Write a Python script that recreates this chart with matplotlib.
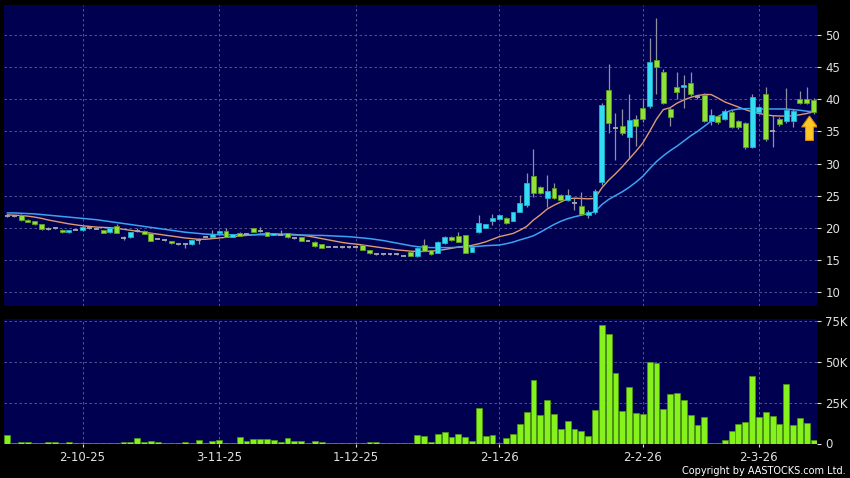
import numpy as np
import matplotlib.pyplot as plt
from matplotlib.patches import Rectangle, FancyArrow

# daily candles (119 sessions, mid-Sep 2025 to mid-Mar 2026)
opens = [21.8, 21.8, 22.0, 21.2, 21.05, 20.5, 19.85, 19.9, 19.7, 19.3,
         19.7, 19.6, 19.9, 19.87, 19.6, 19.27, 20.25, 18.4, 18.5, 19.5,
         19.5, 19.1, 18.3, 18.1, 17.9, 17.4, 17.4, 17.4, 18.05, 18.6,
         18.5, 19.1, 19.45, 18.6, 19.25, 19.0, 19.9, 19.45, 19.35, 18.9,
         18.85, 19.1, 18.35, 18.5, 17.95, 17.8, 17.4, 17.05, 17.05, 17.0,
         17.0, 17.0, 17.3, 16.5, 15.9, 15.85, 15.9, 15.9, 15.65, 16.15,
         15.6, 17.3, 16.5, 16.1, 17.55, 18.6, 18.7, 18.85, 16.25, 19.36,
         19.98, 20.98, 21.4, 21.5, 21.07, 22.5, 23.5, 28.04, 26.4, 24.56,
         26.2, 25.1, 24.3, 23.8, 23.4, 21.96, 22.4, 27.15, 41.4, 35.5,
         35.8, 34.2, 37.0, 38.6, 39.0, 46.1, 44.2, 38.5, 41.85, 41.85,
         42.6, 40.3, 40.7, 36.7, 37.4, 37.0, 38.1, 36.6, 36.25, 32.6,
         37.96, 40.76, 35.1, 36.9, 36.6, 36.6, 40.1, 40.1, 39.9]
highs = [22.0, 21.9, 22.1, 21.3, 21.1, 20.55, 20.05, 20.1, 19.8, 19.7,
         19.8, 20.2, 20.0, 19.95, 19.7, 20.05, 20.6, 18.7, 19.4, 19.9,
         19.6, 19.15, 18.4, 18.2, 17.95, 17.5, 17.45, 18.1, 18.4, 18.75,
         19.6, 19.55, 19.9, 19.0, 19.3, 19.1, 20.0, 20.15, 19.4, 19.15,
         19.6, 19.2, 18.45, 18.55, 18.05, 17.85, 17.45, 17.15, 17.15, 17.1,
         17.1, 17.1, 17.35, 16.55, 16.0, 15.95, 16.0, 16.0, 15.75, 16.25,
         17.0, 18.2, 16.6, 17.9, 18.7, 18.75, 19.36, 18.9, 17.1, 21.96,
         20.65, 22.1, 22.05, 21.6, 22.5, 25.1, 28.46, 32.2, 26.5, 28.2,
         26.9, 25.2, 26.1, 24.56, 25.6, 22.7, 26.0, 39.5, 45.5, 37.8,
         38.5, 40.9, 37.5, 40.2, 49.5, 52.6, 44.8, 38.8, 44.3, 43.8,
         44.2, 40.6, 41.0, 38.5, 37.6, 38.5, 38.3, 36.8, 36.4, 40.85,
         39.0, 41.95, 37.5, 37.2, 41.7, 38.5, 41.3, 42.0, 40.2]
lows = [21.7, 21.7, 21.1, 20.9, 20.4, 19.65, 19.7, 19.75, 19.2, 19.25,
        19.6, 19.55, 19.8, 19.8, 19.15, 19.2, 19.15, 18.1, 18.45, 19.3,
        18.95, 17.95, 18.2, 18.0, 17.5, 17.3, 16.9, 17.35, 17.4, 18.5,
        18.45, 19.05, 18.55, 18.55, 18.7, 18.9, 19.3, 19.4, 18.7, 18.85,
        18.8, 18.45, 18.25, 17.9, 17.85, 17.05, 16.85, 16.95, 16.95, 16.9,
        16.9, 16.9, 16.45, 15.95, 15.8, 15.75, 15.8, 15.8, 15.55, 15.55,
        15.5, 16.3, 15.8, 16.0, 17.5, 18.0, 17.75, 16.05, 16.2, 19.2,
        19.9, 20.45, 21.35, 20.6, 21.0, 22.4, 23.26, 24.8, 25.2, 23.26,
        24.4, 24.2, 24.1, 22.7, 22.0, 21.45, 22.2, 26.6, 34.7, 30.5,
        34.5, 30.8, 32.7, 36.4, 38.7, 40.9, 39.3, 35.8, 40.1, 38.6,
        40.5, 40.0, 36.5, 36.0, 36.2, 36.8, 35.5, 35.4, 32.3, 32.4,
        37.8, 33.5, 32.5, 35.8, 36.3, 35.7, 39.3, 39.3, 37.7]
closes = [21.8, 21.8, 21.2, 20.95, 20.5, 19.75, 19.85, 19.9, 19.3, 19.6,
          19.7, 20.1, 19.9, 19.87, 19.2, 19.98, 19.2, 18.4, 19.3, 19.5,
          19.0, 18.0, 18.3, 18.1, 17.55, 17.4, 17.4, 18.05, 18.05, 18.6,
          18.95, 19.45, 18.6, 18.95, 18.75, 19.0, 19.35, 19.45, 18.75, 19.1,
          18.85, 18.5, 18.35, 17.95, 17.95, 17.1, 16.9, 17.05, 17.05, 17.0,
          17.0, 17.0, 16.5, 16.0, 15.9, 15.85, 15.9, 15.9, 15.65, 15.6,
          16.9, 16.4, 15.9, 17.8, 18.6, 18.07, 17.8, 16.1, 17.03, 20.67,
          20.56, 21.5, 21.96, 20.67, 22.43, 23.9, 26.9, 25.34, 25.34, 25.7,
          24.56, 24.3, 25.1, 23.8, 22.2, 22.5, 25.7, 39.1, 36.3, 35.5,
          34.7, 36.8, 35.9, 36.9, 45.75, 45.1, 39.5, 37.2, 41.2, 42.2,
          40.9, 40.3, 36.7, 37.5, 36.4, 38.2, 35.7, 35.7, 32.5, 40.3,
          38.8, 33.75, 35.1, 36.1, 38.4, 38.2, 39.5, 39.5, 37.96]

# moving averages as drawn on the chart (short = orange, long = blue)
ma_short = [22.0, 21.95, 21.9, 21.8, 21.65, 21.45, 21.2, 21.0, 20.8, 20.6,
            20.45, 20.3, 20.2, 20.1, 20.05, 20.0, 19.9, 19.75, 19.6, 19.45,
            19.3, 19.15, 19.0, 18.85, 18.7, 18.55, 18.4, 18.3, 18.2, 18.2,
            18.3, 18.4, 18.5, 18.6, 18.7, 18.8, 18.9, 19.0, 19.05, 19.05,
            19.0, 19.0, 18.95, 18.85, 18.7, 18.5, 18.3, 18.1, 17.9, 17.7,
            17.55, 17.45, 17.3, 17.15, 17.0, 16.85, 16.7, 16.55, 16.45, 16.35,
            16.3, 16.3, 16.35, 16.45, 16.6, 16.8, 17.0, 17.1, 17.25, 17.5,
            17.8, 18.2, 18.6, 18.85, 19.1, 19.6, 20.2, 21.2, 22.0, 22.9,
            23.5, 24.0, 24.5, 24.6, 24.55, 24.5, 24.55, 26.2, 27.4, 28.4,
            29.5, 30.7, 31.9, 33.2, 35.0, 36.9, 38.4, 38.7, 39.4, 39.9,
            40.3, 40.6, 40.75, 40.75, 40.2, 39.6, 39.2, 38.8, 38.4, 38.05,
            37.8, 37.6, 37.45, 37.4, 37.4, 37.45, 37.6, 37.8, 38.05]
ma_long = [22.3, 22.3, 22.25, 22.2, 22.15, 22.05, 21.95, 21.85, 21.75, 21.65,
           21.55, 21.45, 21.35, 21.25, 21.1, 20.95, 20.8, 20.65, 20.5, 20.35,
           20.2, 20.05, 19.9, 19.75, 19.6, 19.45, 19.3, 19.2, 19.1, 19.0,
           18.95, 18.9, 18.9, 18.9, 18.9, 18.9, 18.9, 18.9, 18.9, 18.9,
           18.9, 18.9, 18.85, 18.85, 18.85, 18.8, 18.8, 18.75, 18.7, 18.65,
           18.6, 18.5, 18.4, 18.3, 18.15, 18.0, 17.8, 17.6, 17.4, 17.2,
           17.05, 16.95, 16.9, 16.9, 16.9, 16.9, 16.95, 17.0, 17.05, 17.1,
           17.2, 17.25, 17.3, 17.5, 17.75, 18.1, 18.4, 18.75, 19.3, 19.9,
           20.5, 21.0, 21.4, 21.7, 21.95, 22.2, 22.5, 23.6, 24.4, 25.0,
           25.6, 26.3, 27.1, 28.0, 29.2, 30.3, 31.2, 32.0, 32.7, 33.5,
           34.3, 35.0, 35.8, 36.6, 37.3, 37.9, 38.3, 38.5, 38.55, 38.55,
           38.5, 38.5, 38.5, 38.5, 38.5, 38.4, 38.3, 38.15, 38.05]

# volume in thousands of shares
volume_k = [5.1, 0.6, 1.0, 1.2, 0.4, 0.6, 1.2, 1.2, 0.6, 1.2,
            0.6, 0.2, 0.1, 0.1, 0.1, 0.1, 0.6, 0.8, 1.0, 3.3,
            1.2, 1.8, 0.8, 0.2, 0.6, 0.6, 1.2, 0.2, 2.0, 0.6,
            1.8, 2.2, 0.6, 0.6, 3.7, 1.4, 2.6, 2.6, 2.6, 2.0,
            1.2, 3.5, 1.4, 1.4, 0.6, 1.8, 1.2, 0.6, 0.6, 0.6,
            0.6, 0.2, 0.2, 0.8, 0.8, 0.6, 0.2, 0.6, 0.6, 0.2,
            4.9, 4.5, 0.8, 5.7, 7.3, 3.9, 5.7, 3.9, 1.8, 21.8,
            4.5, 4.9, 0.4, 3.1, 5.7, 12.2, 19.0, 38.5, 17.5, 26.3,
            18.1, 9.0, 13.9, 8.8, 7.9, 4.3, 20.4, 72.1, 66.8, 43.2,
            19.8, 34.4, 18.5, 17.9, 49.7, 48.9, 21.0, 30.0, 30.8, 26.3,
            17.7, 11.2, 16.1, 0.4, 0.4, 2.4, 7.5, 12.0, 13.2, 41.4,
            16.3, 19.0, 16.7, 11.8, 36.5, 11.4, 15.7, 12.4, 2.0]

tick_idx = [11, 31, 51, 72, 93, 110]
tick_labels = ['2-10-25', '3-11-25', '1-12-25', '2-1-26', '2-2-26', '2-3-26']
price_ticks = [10, 15, 20, 25, 30, 35, 40, 45, 50]
vol_ticks = [0, 25, 50, 75]
vol_labels = ['0', '25K', '50K', '75K']

NAVY = '#000050'
CYAN, CYAN_EDGE = '#33dcf0', '#1fb0d0'
GREEN, GREEN_EDGE = '#8ee23a', '#5f9e1e'
DOJI = '#a8a8b0'
WICK = '#9090a0'
VOL, VOL_EDGE = '#86f21c', '#4f9a10'
GRID = '#60609a'
TXT = '#e0e0e0'

fig = plt.figure(figsize=(8.5, 4.78), dpi=100, facecolor='black')
ax = fig.add_axes([4 / 850, 1 - 306 / 478, 813 / 850, 301 / 478])
axv = fig.add_axes([4 / 850, 1 - 443.5 / 478, 813 / 850, 125 / 478])

n = len(closes)
x = np.arange(n)

for a in (ax, axv):
    a.set_facecolor(NAVY)
    for s in a.spines.values():
        s.set_visible(False)
    a.set_xlim(-0.5, n - 0.5)
    a.yaxis.tick_right()
    a.tick_params(axis='y', colors=TXT, labelsize=8.5, length=3, pad=3,
                  width=0.8)
    a.set_axisbelow(True)

# price panel
ax.set_ylim(7.8, 54.7)
ax.set_yticks(price_ticks)
ax.set_xticks(tick_idx)
ax.tick_params(axis='x', length=0, labelbottom=False)
ax.grid(True, color=GRID, linestyle=(0, (3, 3)), linewidth=0.6)

ax.plot(x, ma_short, color='#e09a72', lw=1.0, zorder=2)
ax.plot(x, ma_long, color='#3aa2f2', lw=1.1, zorder=2)

bw = 0.72
for i in range(n):
    o, h, l, c = opens[i], highs[i], lows[i], closes[i]
    ax.vlines(i, l, h, color=WICK, lw=0.9, zorder=3)
    if c == o:
        ax.hlines(c, i - bw / 2, i + bw / 2, color=DOJI, lw=1.3, zorder=4)
        continue
    fc, ec = (CYAN, CYAN_EDGE) if c > o else (GREEN, GREEN_EDGE)
    ax.add_patch(Rectangle((i - bw / 2, min(o, c)), bw, abs(c - o),
                           facecolor=fc, edgecolor=ec, lw=0.6, zorder=4))

# yellow marker arrow under the latest session
ax.add_patch(FancyArrow(n - 1.6, 33.6, 0, 2.1, width=1.15, head_width=2.3,
                        head_length=1.7, length_includes_head=False,
                        facecolor='#ffc726', edgecolor='#d88a00', lw=0.8,
                        zorder=6))

# volume panel
axv.set_ylim(0, 76.3)
axv.set_yticks(vol_ticks)
axv.set_yticklabels(vol_labels)
axv.grid(True, color=GRID, linestyle=(0, (3, 3)), linewidth=0.6)
axv.bar(x, volume_k, width=0.86, color=VOL, edgecolor=VOL_EDGE, lw=0.5,
        zorder=3)
axv.set_xticks(tick_idx)
axv.set_xticklabels(tick_labels)
axv.tick_params(axis='x', colors=TXT, labelsize=8.5, length=2.5, pad=3,
                width=0.8)

fig.text(0.995, 0.004, 'Copyright by AASTOCKS.com Ltd.', color='white',
         fontsize=7, ha='right', va='bottom')

fig.savefig('out.png', dpi=100, facecolor='black')
